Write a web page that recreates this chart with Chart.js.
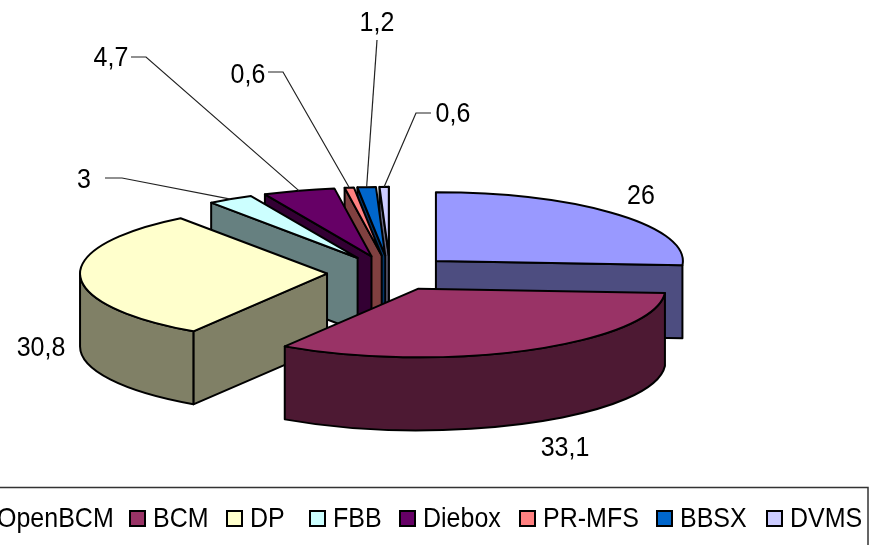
<!DOCTYPE html>
<html>
<head>
<meta charset="utf-8">
<style>
  html, body { margin: 0; padding: 0; background: #fff; }
  #wrap { width: 876px; height: 545px; position: relative; overflow: hidden; }
</style>
<script src="https://cdn.jsdelivr.net/npm/chart.js@4"></script>
</head>
<body>
<div id="wrap"><canvas id="myChart" width="876" height="545"></canvas></div>
<script>
const categories = ["OpenBCM", "BCM", "DP", "FBB", "Diebox", "PR-MFS", "BBSX", "DVMS"];
const shares = [26, 33.1, 30.8, 3, 4.7, 0.6, 1.2, 0.6];
const topColors = ["#9999FF", "#993366", "#FFFFCC", "#CCFFFF", "#660066", "#FF8080", "#0066CC", "#CCCCFF"];
const sideColors = ["#4D4D80", "#4D1933", "#808066", "#668080", "#330033", "#804040", "#003366", "#666680"];

// label anchors, and the elbow of the leader line where there is one
const labelLayout = [
  { x: 641, y: 197 },
  { x: 565, y: 449 },
  { x: 41, y: 349 },
  { x: 84, y: 181, from: [105, 178], elbow: [122, 178] },
  { x: 111, y: 59, from: [131, 57], elbow: [146, 57] },
  { x: 248, y: 76, from: [268, 72], elbow: [283, 72] },
  { x: 377, y: 24, from: [377, 40] },
  { x: 453, y: 115, from: [431, 113], elbow: [416, 113] },
];

const legendSwatchX = [-999, 130, 227, 310, 400, 520, 657, 767];
const legendTextX = [-3, 153, 250, 333, 423, 543, 680, 790];

const FLATTEN = 0.278;
const DEPTH = 73;
const EXPLODE = 0.255;
const FONT = '25px "Liberation Sans", Arial, sans-serif';
const TEXT_STRETCH = 1.07; // reference text is a bit taller than it is wide

function slicePath(ctx, s) {
  ctx.beginPath();
  ctx.moveTo(s.x, s.y);
  ctx.ellipse(s.x, s.y, s.rx, s.ry, 0, s.a0, s.a1);
  ctx.closePath();
}

function pointAt(s, a) {
  return [s.x + Math.cos(a) * s.rx, s.y + Math.sin(a) * s.ry];
}

function paintFace(ctx, fill) {
  ctx.fillStyle = fill;
  ctx.fill();
  ctx.stroke();
}

function radialFace(ctx, s, a, fill) {
  const p = pointAt(s, a);
  ctx.beginPath();
  ctx.moveTo(s.x, s.y);
  ctx.lineTo(p[0], p[1]);
  ctx.lineTo(p[0], p[1] + DEPTH);
  ctx.lineTo(s.x, s.y + DEPTH);
  ctx.closePath();
  paintFace(ctx, fill);
}

function outerFace(ctx, s, fill) {
  // only the part of the rim that looks toward the viewer (0..PI on canvas angles)
  const TAU = Math.PI * 2;
  let from = s.a0;
  let to = s.a1;
  while (from >= TAU) { from -= TAU; to -= TAU; }
  while (from < 0) { from += TAU; to += TAU; }
  from = Math.max(from, 0);
  to = Math.min(to, Math.PI);
  if (to <= from) return;
  const p = pointAt(s, from);
  const q = pointAt(s, to);
  ctx.beginPath();
  ctx.ellipse(s.x, s.y, s.rx, s.ry, 0, from, to);
  ctx.lineTo(q[0], q[1] + DEPTH);
  ctx.ellipse(s.x, s.y + DEPTH, s.rx, s.ry, 0, to, from, true);
  ctx.lineTo(p[0], p[1]);
  ctx.closePath();
  paintFace(ctx, fill);
}

function getSlices(chart) {
  return chart.getDatasetMeta(0).data.map((arc, i) => {
    const p = arc.getProps(["x", "y", "startAngle", "endAngle", "outerRadius"], true);
    const mid = (p.startAngle + p.endAngle) / 2;
    const rx = p.outerRadius;
    const ry = rx * FLATTEN;
    return {
      i,
      mid,
      rx,
      ry,
      a0: p.startAngle,
      a1: p.endAngle,
      x: p.x + Math.cos(mid) * rx * EXPLODE,
      y: p.y + Math.sin(mid) * ry * EXPLODE,
    };
  });
}

function drawText(ctx, text, x, y) {
  ctx.save();
  ctx.translate(x, y);
  ctx.scale(1, TEXT_STRETCH);
  ctx.fillText(text, 0, 0);
  ctx.restore();
}

const pie3d = {
  id: "pie3d",
  beforeDatasetsDraw(chart) {
    const ctx = chart.ctx;
    const slices = getSlices(chart);
    // back to front
    const order = slices.slice().sort((a, b) => Math.sin(a.mid) - Math.sin(b.mid));

    ctx.save();
    ctx.lineWidth = 2;
    ctx.lineJoin = "round";
    ctx.strokeStyle = "#000";
    order.forEach((s) => {
      const side = sideColors[s.i];
      // the cut faces that are turned to the viewer
      if (Math.cos(s.a0) < 0) radialFace(ctx, s, s.a0, side);
      if (Math.cos(s.a1) > 0) radialFace(ctx, s, s.a1, side);
      outerFace(ctx, s, side);
      slicePath(ctx, s);
      paintFace(ctx, topColors[s.i]);
    });
    ctx.restore();

    return false;
  },
  afterDraw(chart) {
    const ctx = chart.ctx;
    const slices = getSlices(chart);

    ctx.save();
    ctx.font = FONT;
    ctx.fillStyle = "#000";
    ctx.textAlign = "center";
    ctx.textBaseline = "middle";
    ctx.strokeStyle = "#222";
    ctx.lineWidth = 1.2;
    labelLayout.forEach((l, i) => {
      drawText(ctx, String(shares[i]).replace(".", ","), l.x, l.y);
      if (!l.from) return;
      const s = slices[i];
      const end = pointAt(s, s.mid);
      ctx.beginPath();
      ctx.moveTo(l.from[0], l.from[1]);
      if (l.elbow) ctx.lineTo(l.elbow[0], l.elbow[1]);
      ctx.lineTo(end[0], end[1]);
      ctx.stroke();
    });

    // legend box runs off the left and bottom edges of the picture
    ctx.strokeStyle = "#333";
    ctx.lineWidth = 1.5;
    ctx.strokeRect(-10, 487.5, 878, 80);
    ctx.textAlign = "left";
    categories.forEach((name, i) => {
      ctx.fillStyle = topColors[i];
      ctx.strokeStyle = "#000";
      ctx.lineWidth = 2;
      ctx.fillRect(legendSwatchX[i], 511, 15, 15);
      ctx.strokeRect(legendSwatchX[i], 511, 15, 15);
      ctx.fillStyle = "#000";
      drawText(ctx, name, legendTextX[i], 519.5);
    });
    ctx.restore();
  },
};

function init() {
  new Chart(document.getElementById("myChart"), {
    type: "pie",
    data: {
      labels: categories,
      datasets: [{ data: shares, backgroundColor: topColors, borderWidth: 0 }],
    },
    options: {
      responsive: false,
      animation: false,
      // centres the pie on (390, 273) with a radius of 247
      layout: { padding: { left: 143, right: 239, top: 26, bottom: 25 } },
      plugins: {
        legend: { display: false },
        tooltip: { enabled: false },
      },
    },
    plugins: [pie3d],
  });
}

init();
</script>
</body>
</html>
